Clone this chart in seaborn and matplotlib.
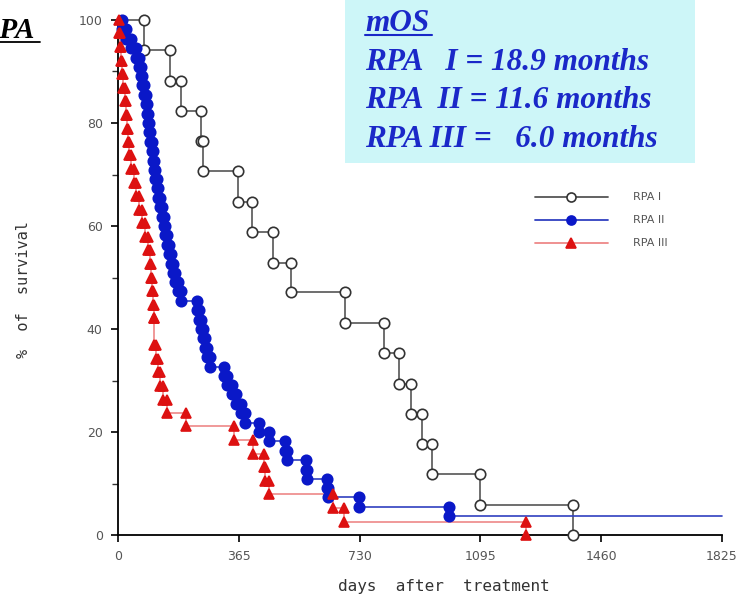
import numpy as np
import pandas as pd
import matplotlib
matplotlib.use("Agg")
import matplotlib.pyplot as plt
from matplotlib.lines import Line2D
import seaborn as sns

# ---- data ----
# RPA I: event days and survival (%) after each event
rpa1_days = [78, 158, 190, 251, 256, 363, 405, 467, 522, 686, 804, 850, 885, 920, 948, 1095, 1375]
rpa1_surv = [94.1, 88.2, 82.4, 76.5, 70.6, 64.7, 58.8, 52.9, 47.1, 41.2, 35.3, 29.4, 23.5, 17.6, 11.8, 5.9, 0.0]

# RPA II
rpa2_days = [12, 25, 40, 55, 62, 68, 74, 80, 85, 88, 91, 94, 97, 103, 106, 109, 112, 118, 122, 128,
             133, 138, 143, 148, 154, 160, 166, 172, 180, 190, 240, 245, 252, 258, 264, 270, 278,
             320, 330, 345, 358, 372, 385, 425, 456, 505, 512, 568, 570, 630, 636, 728, 1000]
rpa2_surv = [98.2, 96.4, 94.5, 92.7, 90.9, 89.1, 87.3, 85.5, 83.6, 81.8, 80.0, 78.2, 76.4, 74.5,
             72.7, 70.9, 69.1, 67.3, 65.5, 63.6, 61.8, 60.0, 58.2, 56.4, 54.5, 52.7, 50.9, 49.1,
             47.3, 45.5, 43.6, 41.8, 40.0, 38.2, 36.4, 34.5, 32.7, 30.9, 29.1, 27.3, 25.5, 23.6,
             21.8, 20.0, 18.2, 16.4, 14.5, 12.7, 10.9, 9.1, 7.3, 5.5, 3.6]
rpa2_last_followup = 1825

# RPA III
rpa3_days = [3, 6, 9, 12, 16, 20, 24, 28, 31, 34, 40, 48, 55, 63, 74, 82, 90, 96, 100, 103, 106,
             108, 110, 114, 120, 128, 136, 148, 205, 351, 408, 441, 445, 456, 650, 683, 1232]
rpa3_surv = [97.4, 94.7, 92.1, 89.5, 86.8, 84.2, 81.6, 78.9, 76.3, 73.7, 71.1, 68.4, 65.8, 63.2,
             60.5, 57.9, 55.3, 52.6, 50.0, 47.4, 44.7, 42.1, 36.8, 34.2, 31.6, 28.9, 26.3, 23.7,
             21.1, 18.4, 15.8, 13.2, 10.5, 7.9, 5.3, 2.6, 0.0]

groups = ["RPA I", "RPA II", "RPA III"]
x_ticks = [0, 365, 730, 1095, 1460, 1825]
y_ticks = [0, 20, 40, 60, 80, 100]

mos_lines = ["RPA   I = 18.9 months", "RPA  II = 11.6 months", "RPA III =   6.0 months"]


def step_path(days, surv):
    xs, ys = [0.0], [100.0]
    prev = 100.0
    for d, s in zip(days, surv):
        xs += [d, d]
        ys += [prev, s]
        prev = s
    return xs, ys


sns.set_theme(style="ticks")
plt.rcParams['font.family'] = ['DejaVu Sans']

fig = plt.figure(figsize=(7.44, 5.97), dpi=100)
ax = fig.add_axes([118 / 744, 62 / 597, (722 - 118) / 744, (535 - 20) / 597])

styles = {
    "RPA I": dict(line="#555555", mfc="white", mec="#333333", marker="o", ms=7.5),
    "RPA II": dict(line="#3040c0", mfc="#0a18c8", mec="#0a18c8", marker="o", ms=7.5),
    "RPA III": dict(line="#ee8888", mfc="#dd1111", mec="#dd1111", marker="^", ms=7.5),
}

for g, days, surv in [("RPA I", rpa1_days, rpa1_surv),
                      ("RPA II", rpa2_days, rpa2_surv),
                      ("RPA III", rpa3_days, rpa3_surv)]:
    xs, ys = step_path(days, surv)
    st = styles[g]
    df = pd.DataFrame({"day": xs, "surv": ys})
    if g == "RPA II":
        tail = pd.DataFrame({"day": [xs[-1], rpa2_last_followup], "surv": [ys[-1], ys[-1]]})
        sns.lineplot(data=tail, x="day", y="surv", ax=ax, estimator=None, sort=False,
                     color=st["line"], lw=1.2, clip_on=False)
    sns.lineplot(data=df, x="day", y="surv", ax=ax, estimator=None, sort=False,
                 color=st["line"], lw=1.2, clip_on=False)
    mk = df.iloc[1:]
    ax.plot(mk["day"], mk["surv"], ls="none", marker=st["marker"], ms=st["ms"],
            mfc=st["mfc"], mec=st["mec"], mew=1.2, clip_on=False, zorder=3)

ax.set_xlim(0, 1825)
ax.set_ylim(0, 100)
ax.set_xticks(x_ticks)
ax.set_xticklabels([str(t) for t in x_ticks])
ax.set_yticks(y_ticks)
ax.set_yticks([10, 30, 50, 70, 90], minor=True)
ax.tick_params(axis="both", which="major", direction="out", length=5, width=1.2,
               labelsize=9, labelcolor="#555555", color="black", pad=6)
ax.tick_params(axis="y", which="minor", direction="out", length=4, width=1.0, color="#333333")
for sp in ["top", "right"]:
    ax.spines[sp].set_visible(False)
for sp in ["left", "bottom"]:
    ax.spines[sp].set_linewidth(1.3)
    ax.spines[sp].set_color("black")
ax.set_xlabel("")
ax.set_ylabel("")
ax.grid(False)
fig.text(444 / 744, 1 - 587 / 597, "days  after  treatment", fontfamily="DejaVu Sans Mono",
         fontsize=11.5, color="#333333", ha="center", va="center")
fig.text(24 / 744, 1 - 290 / 597, "%  of  survival", fontfamily="DejaVu Sans Mono",
         fontsize=11, color="#333333", ha="center", va="center", rotation=90)

# mOS box
fig.patches.append(plt.Rectangle((345 / 744, 1 - 163 / 597), (695 - 345) / 744, 163 / 597,
                                 transform=fig.transFigure, facecolor="#cdf6f8",
                                 edgecolor="none", zorder=0))
tkw = dict(fontfamily="Liberation Serif", fontweight="bold", fontstyle="italic",
           color="#1a28c8", fontsize=22.5, va="baseline", ha="left")
fig.text(365 / 744, 1 - 31 / 597, "mOS", **tkw)
fig.add_artist(Line2D([365 / 744, 432 / 744], [1 - 35 / 597, 1 - 35 / 597],
                      color="#1a28c8", lw=1.5, transform=fig.transFigure))
for i, line in enumerate(mos_lines):
    fig.text(365 / 744, 1 - (70 + i * 38.5) / 597, line, **tkw)

# "RPA" cut-off title on the left
fig.text(-20 / 744, 1 - 38 / 597, "RPA", fontfamily="Liberation Serif", fontweight="bold",
         fontstyle="italic", fontsize=21, color="black", va="baseline", ha="left")
fig.add_artist(Line2D([0, 40 / 744], [1 - 42 / 597, 1 - 42 / 597], color="black", lw=1.3,
                      transform=fig.transFigure))

# legend
for i, g in enumerate(groups):
    st = styles[g]
    yy = 1 - (197 + i * 23) / 597
    fig.add_artist(Line2D([535 / 744, 608 / 744], [yy, yy], color=st["line"], lw=1.3,
                          transform=fig.transFigure))
    fig.add_artist(Line2D([571 / 744], [yy], ls="none", marker=st["marker"], ms=6.5,
                          mfc=st["mfc"], mec=st["mec"], mew=1.2, transform=fig.transFigure))
    fig.text(633 / 744, yy, g, fontsize=8, color="#555555", va="center", ha="left")

fig.savefig("out.png", dpi=100)
